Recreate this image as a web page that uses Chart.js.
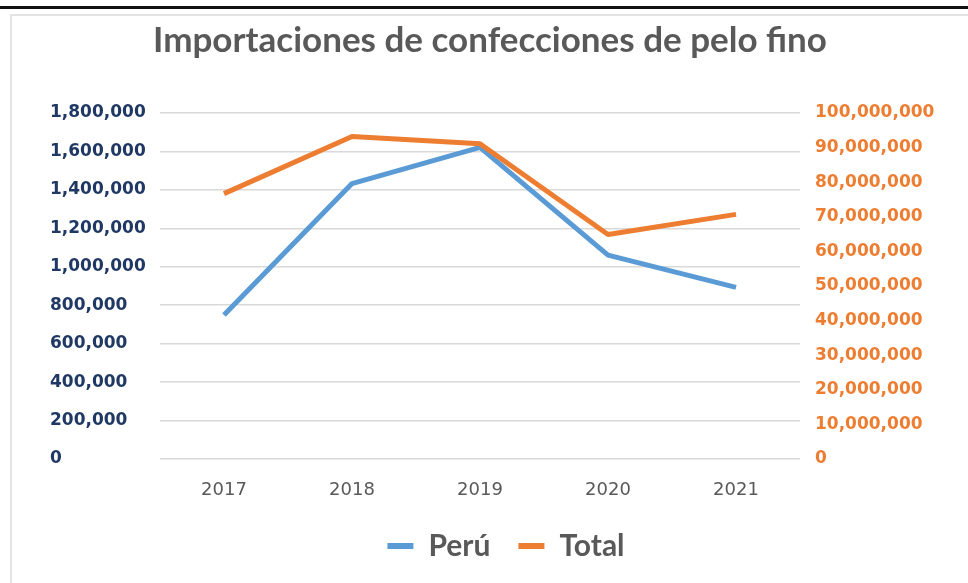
<!DOCTYPE html>
<html>
<head>
<meta charset="utf-8">
<script src="https://cdn.jsdelivr.net/npm/chart.js@4.4.1/dist/chart.umd.min.js"></script>
<style>
  html, body { margin: 0; padding: 0; background: #fff; }
  body { width: 968px; height: 583px; position: relative; overflow: hidden; }
  .topbar { position: absolute; left: 0; top: 6px; width: 968px; height: 3px; background: #111; }
  .frame { position: absolute; left: 10px; top: 14px; width: 980px; height: 600px;
           border-left: 2px solid #e3e3e3; border-top: 2px solid #e3e3e3; }
  #chart { position: absolute; left: 0; top: 0; }
</style>
</head>
<body>
<div class="topbar"></div>
<div class="frame"></div>
<canvas id="chart" width="968" height="583"></canvas>
<script>
const years = ["2017", "2018", "2019", "2020", "2021"];
const peru = [749000, 1433000, 1621000, 1061000, 893000];
const total = [76700000, 93200000, 91100000, 64900000, 70700000];
const leftTicks = [0, 200000, 400000, 600000, 800000, 1000000, 1200000, 1400000, 1600000, 1800000];
const rightTicks = [0, 10000000, 20000000, 30000000, 40000000, 50000000, 60000000, 70000000, 80000000, 90000000, 100000000];

const fmt = v => Number(v).toLocaleString("en-US");

// title sits a bit left of the full-width centre in the original
const shiftTitle = {
  id: "shiftTitle",
  afterLayout(chart) { chart.titleBlock.left -= 32; }
};

new Chart(document.getElementById("chart"), {
  type: "line",
  data: {
    labels: years,
    datasets: [
      {
        label: "Perú",
        data: peru,
        yAxisID: "y",
        borderColor: "#5B9BD5",
        backgroundColor: "#5B9BD5",
        borderWidth: 5,
        pointRadius: 0,
        tension: 0,
        borderJoinStyle: "round",
        order: 1
      },
      {
        label: "Total",
        data: total,
        yAxisID: "y2",
        borderColor: "#ED7D31",
        backgroundColor: "#ED7D31",
        borderWidth: 5,
        pointRadius: 0,
        tension: 0,
        borderJoinStyle: "round",
        order: 0
      }
    ]
  },
  plugins: [shiftTitle],
  options: {
    responsive: false,
    animation: false,
    layout: { padding: { left: 50, right: 6, top: 0, bottom: 12 } },
    plugins: {
      title: {
        display: true,
        text: "Importaciones de confecciones de pelo fino",
        color: "#595959",
        font: { family: "Lato", size: 35, weight: "bold" },
        padding: { top: 20, bottom: 51 }
      },
      legend: {
        position: "bottom",
        labels: {
          color: "#595959",
          font: { family: "Lato", size: 30, weight: "bold" },
          boxWidth: 26,
          boxHeight: 6,
          padding: 28,
          sort: (a, b) => a.datasetIndex - b.datasetIndex,
          generateLabels: chart => Chart.defaults.plugins.legend.labels.generateLabels(chart)
            .map(item => Object.assign(item, { lineWidth: 0 }))
        }
      },
      tooltip: { enabled: false }
    },
    scales: {
      x: {
        offset: true,
        grid: { display: false },
        border: { display: false },
        ticks: {
          color: "#595959",
          font: { family: "DejaVu Sans", size: 18 },
          padding: 13
        },
        afterFit: s => { s.height = 44; }
      },
      y: {
        position: "left",
        min: 0,
        max: 1800000,
        afterBuildTicks: s => { s.ticks = leftTicks.map(v => ({ value: v })); },
        grid: { color: "#d9d9d9", lineWidth: 1.5, drawTicks: false },
        border: { display: false },
        ticks: {
          color: "#203864",
          font: { family: "DejaVu Sans", size: 17, weight: "bold" },
          crossAlign: "far",
          callback: v => fmt(v)
        },
        afterFit: s => { s.width = 110; }
      },
      y2: {
        position: "right",
        min: 0,
        max: 100000000,
        afterBuildTicks: s => { s.ticks = rightTicks.map(v => ({ value: v })); },
        grid: { display: false, drawTicks: false },
        border: { display: false },
        ticks: {
          color: "#ED7D31",
          font: { family: "DejaVu Sans", size: 17, weight: "bold" },
          padding: 15,
          callback: v => fmt(v)
        },
        afterFit: s => { s.width = 162; }
      }
    }
  }
});
</script>
</body>
</html>
